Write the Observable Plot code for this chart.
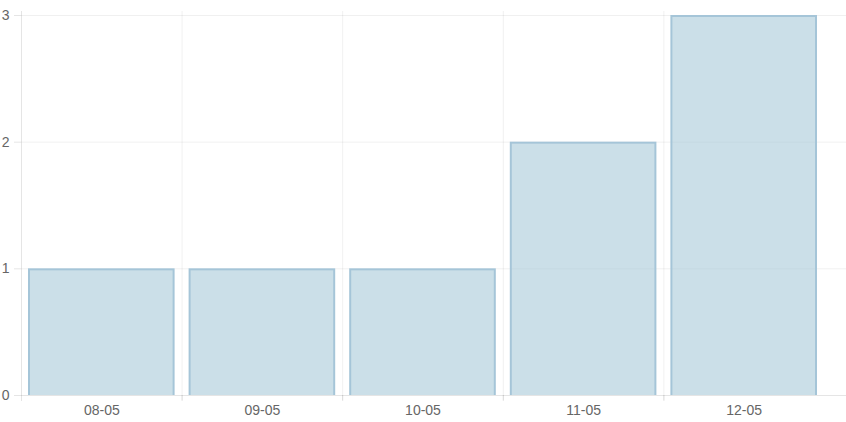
<!DOCTYPE html>
<html>
<head>
<meta charset="utf-8">
<script src="https://cdn.jsdelivr.net/npm/d3@7"></script>
<script src="https://cdn.jsdelivr.net/npm/@observablehq/plot@0.6"></script>
<style>
  html, body { margin: 0; padding: 0; background: #fff; }
  svg { display: block; }
</style>
</head>
<body>
<div id="chart"></div>
<script>
const categories = ["08-05", "09-05", "10-05", "11-05", "12-05"];
const values = [1, 1, 1, 2, 3];
const yTicks = [0, 1, 2, 3];

const data = categories.map((c, i) => ({ i, label: c, value: values[i] }));
const idx = categories.map((_, i) => i);

const chart = Plot.plot({
  width: 846,
  height: 422,
  marginLeft: 21,
  marginRight: 0,
  marginTop: 15,
  marginBottom: 27,
  style: { fontFamily: "'Liberation Sans', Arial, sans-serif", fontSize: "14px", color: "#666", background: "#fff" },
  x: { type: "linear", domain: [0, categories.length], range: [21, 824] },
  y: { domain: [0, 3] },
  marks: [
    Plot.ruleY(yTicks.slice(1), { stroke: "#000", strokeOpacity: 0.06 }),
    Plot.ruleX(idx.slice(1), { stroke: "#000", strokeOpacity: 0.06, insetTop: -4, insetBottom: -5 }),
    Plot.rectY(data, {
      x1: "i", x2: d => d.i + 1, y: "value",
      fill: "rgba(160,196,214,0.55)",
      stroke: "#a5c5d8", strokeWidth: 2,
      insetLeft: 8, insetRight: 8, insetTop: 1, insetBottom: -3,
      clip: true
    }),
    Plot.ruleX([0], { stroke: "#000", strokeOpacity: 0.1, insetTop: -4 }),
    Plot.ruleY([0], { stroke: "#000", strokeOpacity: 0.1 }),
    Plot.axisY({ ticks: yTicks, tickSize: 7, tickPadding: 5, tickFormat: d3.format("d"), stroke: "#000", strokeOpacity: 0.1, fill: "#666", label: null }),
    Plot.axisX({ ticks: idx, tickSize: 6, text: null, stroke: "#000", strokeOpacity: 0.1, label: null }),
    Plot.axisX({ ticks: idx.map(i => i + 0.5), tickSize: 0, tickPadding: 10, tickFormat: d => categories[Math.floor(d)], fill: "#666", label: null })
  ]
});
document.getElementById("chart").appendChild(chart);
</script>
</body>
</html>
